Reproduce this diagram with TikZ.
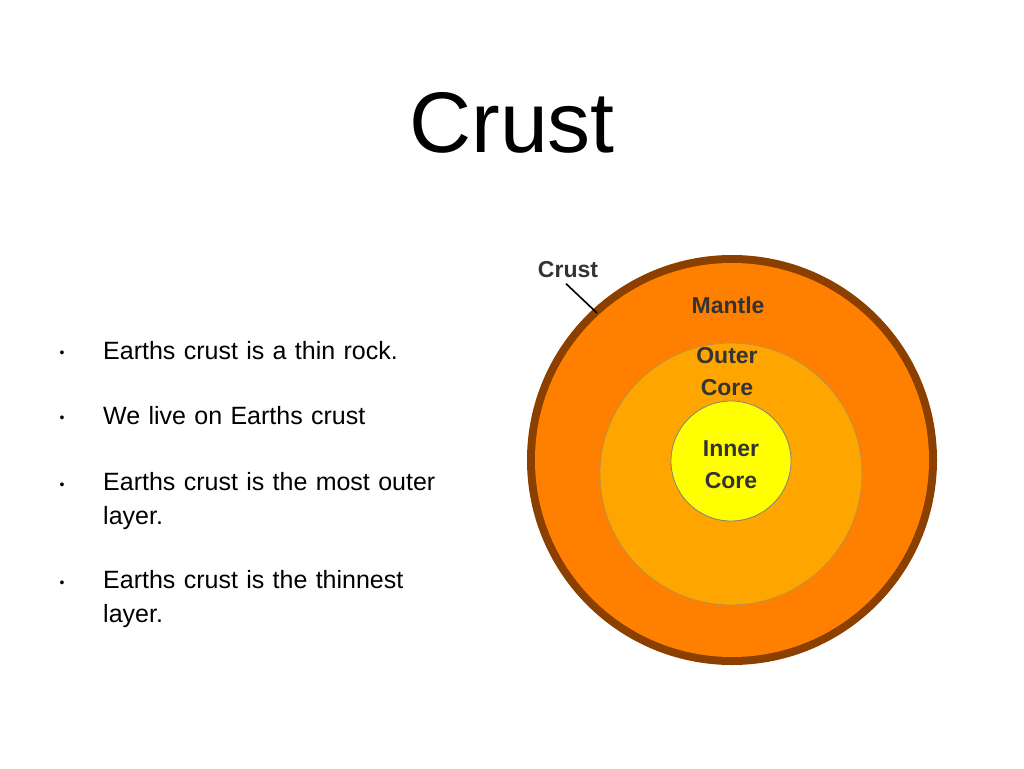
\documentclass[tikz,border=0pt]{standalone}
\usepackage{fontspec}
\setmainfont{Liberation Sans}
\definecolor{crustc}{HTML}{8B4000}
\definecolor{mantlec}{HTML}{FF7F00}
\definecolor{outerc}{HTML}{FFA500}
\definecolor{innerc}{HTML}{FFFF00}
\begin{document}
\begin{tikzpicture}[x=1pt,y=-1pt,
  lbl/.style={font=\fontsize{23}{26}\selectfont\bfseries,align=center,text=black!80},
  bul/.style={font=\fontsize{25}{34}\selectfont,anchor=north west,align=left,text width=390pt,inner sep=0pt}]
\useasboundingbox (0,0) rectangle (1024,768);
\fill[white] (0,0) rectangle (1024,768);
\node (title) at (512,123) {\fontsize{86}{90}\selectfont Crust};
\fill[crustc] (732,460) circle (205);
\fill[mantlec] (732,460) circle (197);
\draw[outerc!60!black!70,line width=0.8pt,fill=outerc] (731,474) circle (131);
\draw[gray,line width=0.8pt,fill=innerc] (731,461) circle (60);
\node[lbl] (cr) at (568,270) {Crust};
\coordinate (ce) at (597,313);
\draw[line width=1.6pt] (cr.south) ++(-2,2) coordinate (cs) -- (ce);
\node[lbl] (ma) at (728,305) {Mantle};
\node[lbl,font=\fontsize{23}{32}\selectfont\bfseries] (oc) at (727,372) {Outer\\Core};
\node[lbl,font=\fontsize{23}{32}\selectfont\bfseries] (ic) at (731,465) {Inner\\Core};
\node[bul] (b1) at (103,341) {Earths crust is a thin rock.};
\node[bul] (b2) at (103,406) {We live on Earths crust};
\node[bul] (b3) at (103,472) {Earths crust is the most outer\\layer.};
\node[bul] (b4) at (103,570) {Earths crust is the thinnest\\layer.};
\foreach \y [count=\i] in {354,419,486,584} \node[font=\fontsize{14}{14}\selectfont] (d\i) at (62,\y) {•};
\end{tikzpicture}
\end{document}
